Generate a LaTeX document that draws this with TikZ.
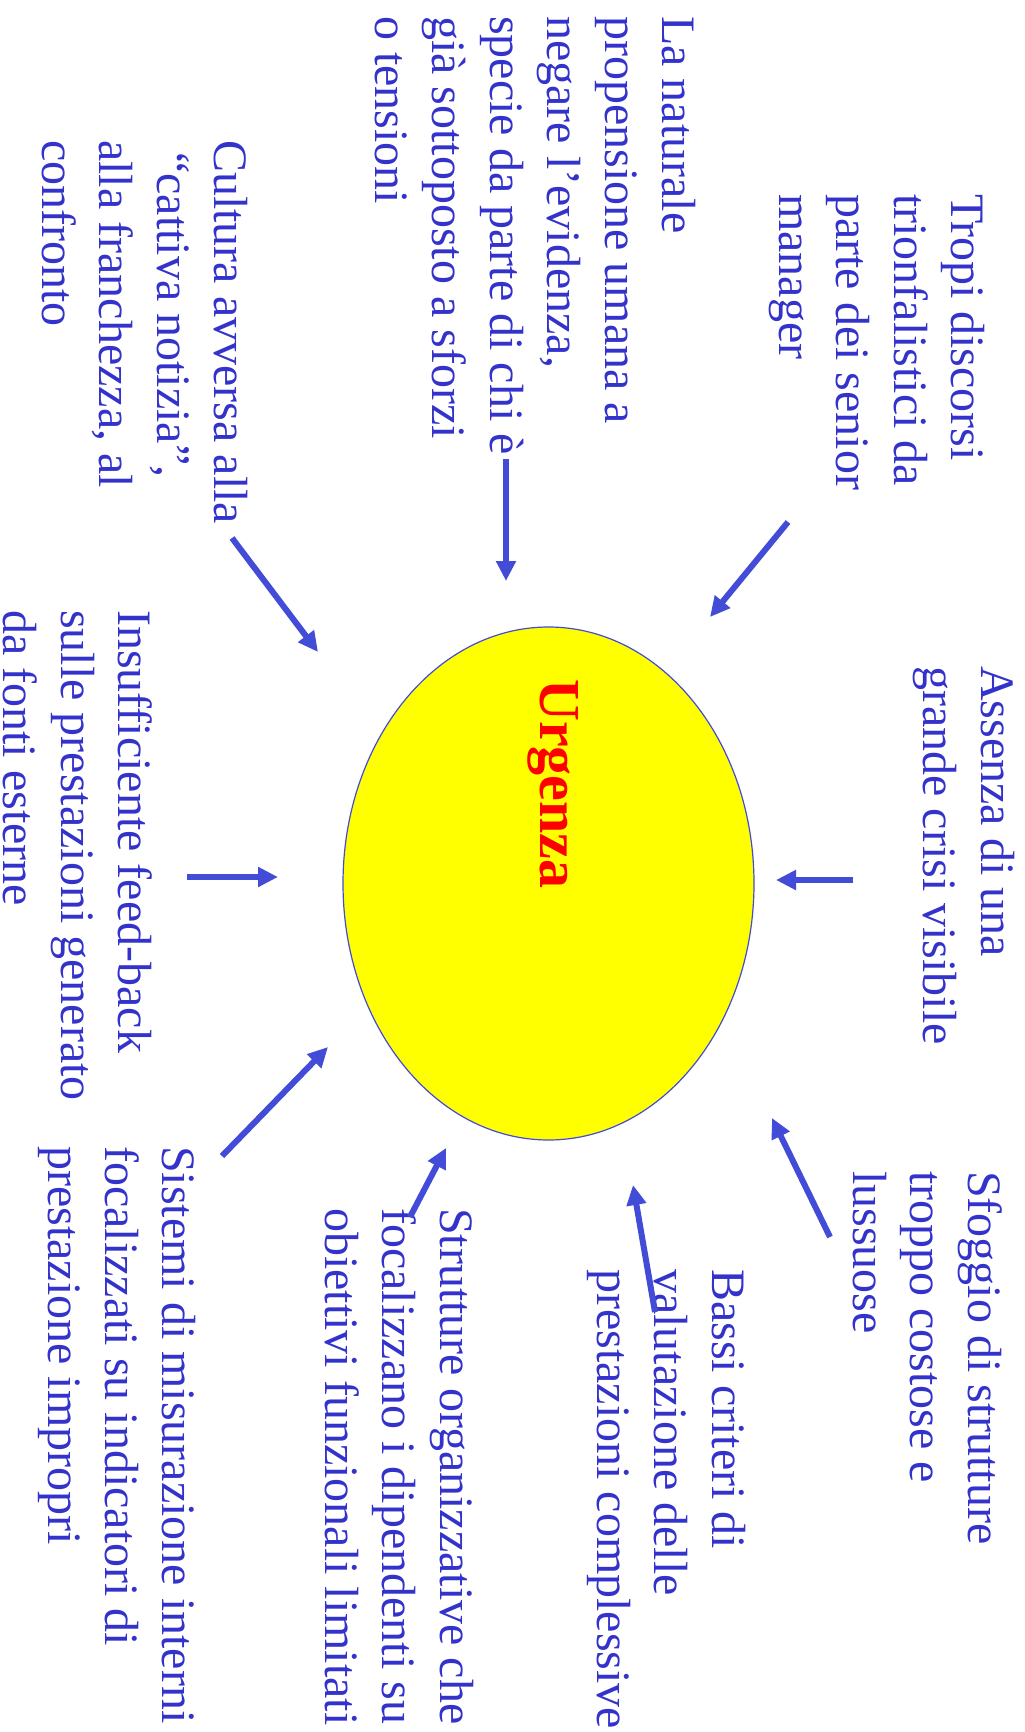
\documentclass[tikz,border=0pt]{standalone}
\usepackage{fontspec}
\setmainfont{Liberation Serif}
\usetikzlibrary{arrows.meta,shapes.geometric}
\definecolor{txtblue}{RGB}{51,51,204}
\definecolor{arrblue}{RGB}{66,76,214}
\definecolor{ellyellow}{RGB}{255,255,0}
\definecolor{urgred}{RGB}{255,0,0}
\begin{document}
\begin{tikzpicture}[x=1pt,y=-1pt,
  lbl/.style={rotate=-90, anchor=base west, inner sep=0pt, align=left, text=txtblue,
    font=\fontsize{48}{57.5}\selectfont},
  arr/.style={draw=arrblue, line width=6pt, -{Triangle[length=20pt,width=19pt]}},
]
\useasboundingbox (0,0) rectangle (1025,1732);
% central ellipse
\node[ellipse, draw=arrblue, line width=1.2pt, fill=ellyellow, inner sep=0pt,
      minimum width=411pt, minimum height=513pt] (urg) at (548.5,883.5) {};
\node[rotate=-90, anchor=base west, inner sep=0pt, text=urgred,
      font=\fontsize{58}{60}\selectfont\bfseries] (urgtxt) at (540,679) {Urgenza};
% text blocks (anchor = baseline of the last line, start of line)
\node[lbl] (t1) at (779,194) {Tropi discorsi\\trionfalistici da\\parte dei senior\\manager};
\node[lbl] (t2) at (375,16) {La naturale\\propensione umana a\\negare l’evidenza,\\specie da parte di chi è\\già sottoposto a sforzi\\o tensioni};
\node[lbl] (t3) at (42,140) {Cultura avversa alla\\\hspace*{12pt}“cattiva notizia”,\\alla franchezza, al\\confronto};
\node[lbl] (t4) at (4,610) {Insufficiente feed-back\\sulle prestazioni generato\\da fonti esterne};
\node[lbl] (t5) at (923.5,666) {Assenza di una\\grande crisi visibile};
\node[lbl] (t6) at (853,1171) {Sfoggio di strutture\\troppo costose e\\lussuose};
\node[lbl] (t7) at (597,1269) {Bassi criteri di\\valutazione delle\\prestazioni complessive};
\node[lbl] (t8) at (325,1208) {Strutture organizzative che\\focalizzano i dipendenti su\\obiettivi funzionali limitati};
\node[lbl] (t9) at (48,1146) {Sistemi di misurazione interni\\focalizzati su indicatori di\\prestazione impropri};
% arrow end points
\coordinate (a1s) at (788,522);  \coordinate (a1e) at (710,617);
\coordinate (a2s) at (506,459);  \coordinate (a2e) at (506,581);
\coordinate (a3s) at (232,538);  \coordinate (a3e) at (318,652);
\coordinate (a4s) at (187,877);  \coordinate (a4e) at (278,877);
\coordinate (a5s) at (853,880);  \coordinate (a5e) at (776,880);
\coordinate (a6s) at (830,1237); \coordinate (a6e) at (772,1118);
\coordinate (a7s) at (655,1312); \coordinate (a7e) at (633,1185);
\coordinate (a8s) at (410,1217); \coordinate (a8e) at (446,1148);
\coordinate (a9s) at (222,1156); \coordinate (a9e) at (328,1047);
\draw[arr] (a1s) -- (a1e);
\draw[arr] (a2s) -- (a2e);
\draw[arr] (a3s) -- (a3e);
\draw[arr] (a4s) -- (a4e);
\draw[arr] (a5s) -- (a5e);
\draw[arr] (a6s) -- (a6e);
\draw[arr] (a7s) -- (a7e);
\draw[arr] (a8s) -- (a8e);
\draw[arr] (a9s) -- (a9e);
\end{tikzpicture}
\end{document}
